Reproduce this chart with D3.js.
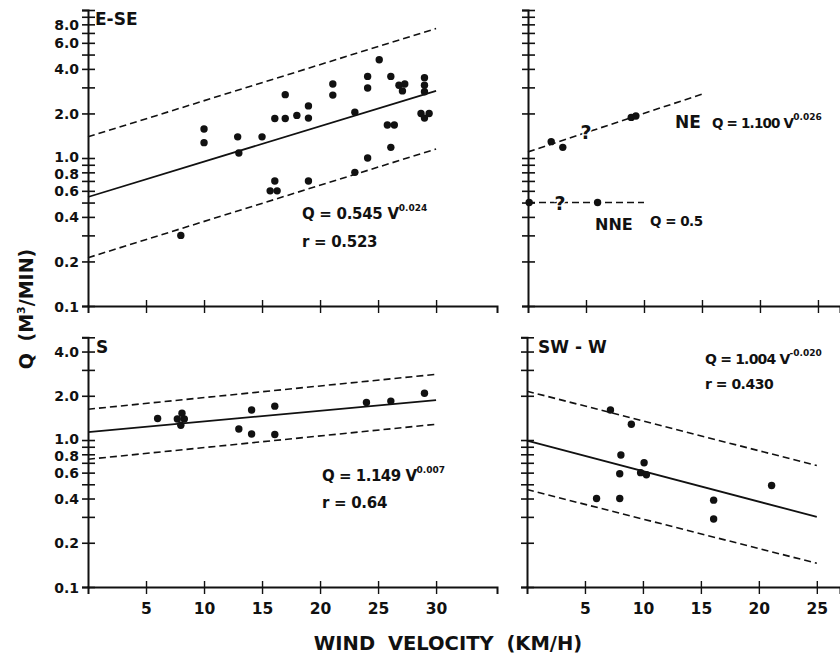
<!DOCTYPE html>
<html>
<head>
<meta charset="utf-8">
<script src="https://cdn.jsdelivr.net/npm/d3@7"></script>
<style>
  body { margin: 0; background: #fff; }
  svg text { font-family: "DejaVu Sans", sans-serif; font-weight: bold; fill: #111; }
</style>
</head>
<body>
<svg id="chart" width="840" height="660" viewBox="0 0 840 660"></svg>
<script>
// observed points [wind velocity km/h, Q m3/min]
const eseData = [[8,0.3],[10,1.57],[10,1.27],[12.9,1.39],[13,1.08],[15,1.39],[16.1,1.85],[17,1.85],[17,2.68],
  [18,1.94],[19,2.25],[19,1.86],[21.1,3.16],[21.1,2.66],[23,2.04],[24.1,3.56],[24.1,2.97],[25.1,4.61],[26.1,3.56],
  [25.8,1.67],[26.4,1.67],[26.1,1.18],[24.1,1.0],[23,0.8],[16.1,0.7],[15.7,0.6],[16.3,0.6],[19,0.7],
  [26.8,3.1],[27.3,3.16],[27.1,2.84],[29,3.49],[29,3.1],[29,2.8],[28.7,2.0],[29.4,2.0],[29,1.86]]
const neData = [[2,1.29],[3,1.18],[8.9,1.88],[9.3,1.92]]
const nneData = [[0.1,0.5],[6,0.5]]
const sData = [[6,1.4],[7.7,1.39],[8.1,1.52],[8.3,1.39],[8,1.26],[13,1.19],[14.1,1.6],[14.1,1.1],
  [16.1,1.7],[16.1,1.09],[24,1.8],[26.1,1.84],[29,2.08]]
const swData = [[7.2,1.6],[9,1.28],[8.1,0.79],[8,0.59],[8,0.4],[6,0.4],[10.1,0.7],[9.8,0.6],[10.3,0.58],
  [16.1,0.39],[16.1,0.29],[21.1,0.49]]

// fitted line end points
const eseFit = [[0,0.545],[30,2.84]]
const eseUpper = [[0,1.39],[30,7.5]]
const eseLower = [[0,0.212],[30,1.15]]
const neFit = [[0,1.1],[15,2.7]]
const nneFit = [[0,0.5],[10,0.5]]
const sFit = [[0,1.13],[30,1.87]]
const sUpper = [[0,1.62],[30,2.8]]
const sLower = [[0,0.74],[30,1.28]]
const swFit = [[0,0.99],[25,0.3]]
const swUpper = [[0,2.15],[25,0.67]]
const swLower = [[0,0.46],[25,0.145]]

// ticks
const topYTicks = [0.1,0.2,0.3,0.4,0.5,0.6,0.7,0.8,0.9,1,2,3,4,5,6,7,8,9,10]
const topYLabels = [0.1,0.2,0.4,0.6,0.8,1,2,4,6,8]
const botYTicks = [0.1,0.2,0.3,0.4,0.5,0.6,0.7,0.8,0.9,1,2,3,4,5]
const botYLabels = [0.1,0.2,0.4,0.6,0.8,1,2,4]
const leftXTicks = [5,10,15,20,25,30]
const rightXTicks = [5,10,15,20,25]

const svg = d3.select("#chart")

const panels = [
  {xr:[88,497], xd:[0,35.25], yr:[306,10], yd:[0.1,10], yt:topYTicks, yl:topYLabels, xt:leftXTicks, xlab:false,
   pts:eseData, solid:[eseFit], dashed:[eseUpper,eseLower]},
  {xr:[528,840], xd:[0,26.9], yr:[306,10], yd:[0.1,10], yt:topYTicks, yl:[], xt:rightXTicks, xlab:false,
   pts:neData.concat(nneData), solid:[], dashed:[neFit,nneFit],
   qmarks:[[5,1.5],[2.75,0.5]]},
  {xr:[88,497], xd:[0,35.25], yr:[587,337.3], yd:[0.1,5], yt:botYTicks, yl:botYLabels, xt:leftXTicks, xlab:true,
   pts:sData, solid:[sFit], dashed:[sUpper,sLower]},
  {xr:[527,840], xd:[0,27], yr:[587,337.3], yd:[0.1,5], yt:botYTicks, yl:[], xt:rightXTicks, xlab:true,
   pts:swData, solid:[swFit], dashed:[swUpper,swLower]}
]

panels.forEach(p => {
  const x = d3.scaleLinear().domain(p.xd).range(p.xr)
  const y = d3.scaleLog().domain(p.yd).range(p.yr)
  const g = svg.append("g")

  const line = d3.line().x(d => x(d[0])).y(d => y(d[1]))

  p.dashed.forEach(d => {
    g.append("path").attr("d", line(d)).attr("fill","none")
      .attr("stroke","#111").attr("stroke-width",1.6).attr("stroke-dasharray","7,4")
  })
  p.solid.forEach(d => {
    g.append("path").attr("d", line(d)).attr("fill","none")
      .attr("stroke","#111").attr("stroke-width",1.8)
  })

  if (p.qmarks) {
    g.selectAll(".q").data(p.qmarks).enter().append("text")
      .attr("x", d => x(d[0])).attr("y", d => y(d[1]) + 7)
      .attr("text-anchor","middle").attr("font-size",19)
      .attr("stroke","#fff").attr("stroke-width",3).attr("paint-order","stroke")
      .text("?")
  }

  g.selectAll(".pt").data(p.pts).enter().append("circle")
    .attr("cx", d => x(d[0])).attr("cy", d => y(d[1])).attr("r",3.7).attr("fill","#111")

  // y axis
  const yAxis = d3.axisLeft(y).tickValues(p.yt).tickSizeOuter(0).tickSize(6)
    .tickFormat(d => p.yl.includes(d) ? d3.format(".1f")(d) : "")
  const ya = g.append("g").attr("transform",`translate(${p.xr[0]},0)`).call(yAxis)
  ya.select(".domain").attr("stroke","#111").attr("stroke-width",2)
  ya.selectAll(".tick line").attr("x1",7).attr("x2",-6).attr("stroke","#111").attr("stroke-width",1.6)
  ya.selectAll(".tick text").attr("x",-9).attr("font-size",14).attr("dy","0.36em")
  // 1.0 and 0.8 sit close together, nudge them apart a little
  ya.selectAll(".tick text").filter(d => d === 1).attr("dy","0.22em")
  ya.selectAll(".tick text").filter(d => d === 0.8).attr("dy","0.46em")

  // x axis
  const xAxis = d3.axisBottom(x).tickValues(p.xt).tickSizeOuter(0).tickSize(7)
    .tickFormat(d => p.xlab ? d : "")
  const xa = g.append("g").attr("transform",`translate(0,${p.yr[0]})`).call(xAxis)
  xa.select(".domain").attr("stroke","#111").attr("stroke-width",2)
  xa.selectAll(".tick line").attr("y1",-6).attr("y2",7).attr("stroke","#111").attr("stroke-width",1.4)
  xa.selectAll(".tick text").attr("y",16).attr("font-size",15.5).attr("dy","0.71em")
  svg.selectAll(".tick text").style("fill","#111")
})

// panel labels and equations
function label(x, y, size, txt, sup, ls) {
  const t = svg.append("text").attr("x",x).attr("y",y).attr("font-size",size)
    .attr("letter-spacing", ls || 0).text(txt)
  if (sup) t.append("tspan").attr("dy",-8).attr("font-size",9).attr("letter-spacing",0).text(sup)
}
label(95, 25, 17, "E-SE")
label(302, 219, 15, "Q = 0.545 V", "0.024", -0.3)
label(302, 247, 15, "r = 0.523", null, -0.3)
label(675, 128, 17, "NE")
label(712, 128, 13.5, "Q = 1.100 V", "0.026", -0.8)
label(595, 230, 16, "NNE")
label(650, 226, 13.5, "Q = 0.5", null, -0.5)
label(96, 353, 17, "S")
label(322, 481, 15, "Q = 1.149 V", "0.007", -0.5)
label(322, 508, 15, "r = 0.64", null, -0.3)
label(538, 353, 17, "SW - W")
label(705, 364, 14, "Q = 1.004 V", "-0.020", -0.8)
label(705, 389, 14, "r = 0.430", null, -0.5)

svg.append("text").attr("x",448).attr("y",650).attr("text-anchor","middle")
  .attr("font-size",19.5).attr("word-spacing",6).text("WIND VELOCITY (KM/H)")

const yt = svg.append("text").attr("transform","translate(33,309) rotate(-90)")
  .attr("text-anchor","middle").attr("font-size",19).attr("word-spacing",5)
yt.append("tspan").text("Q (M")
yt.append("tspan").attr("dy",-8).attr("font-size",11).text("3")
yt.append("tspan").attr("dy",8).text("/MIN)")
</script>
</body>
</html>
